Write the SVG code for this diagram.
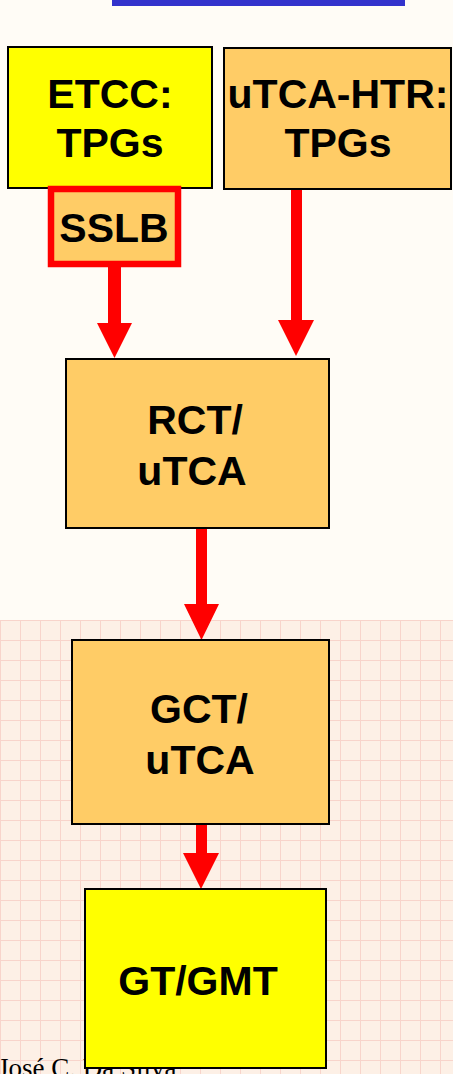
<svg xmlns="http://www.w3.org/2000/svg" width="453" height="1074" viewBox="0 0 453 1074">
  <defs>
    <style>
      .box { stroke: #000; stroke-width: 2; }
      .yel { fill: #ffff00; }
      .org { fill: #ffcc66; }
      .lbl { font-family: "Liberation Sans", Arial, sans-serif; font-weight: bold; font-size: 41px; fill: #000; text-anchor: middle; }
      .conn { fill: #ff0000; }
    </style>
    <pattern id="grid" width="20" height="20" patternUnits="userSpaceOnUse">
      <path d="M0 0H20M0 0V20" stroke="#f2b8b0" stroke-width="2" fill="none"/>
    </pattern>
  </defs>

  <!-- background -->
  <rect x="0" y="0" width="453" height="1074" fill="#fffcf6"/>
  <rect x="0" y="620" width="453" height="454" fill="#fdf0e6"/>
  <rect x="0" y="620" width="453" height="454" fill="url(#grid)" opacity="0.5"/>

  <!-- title bar remnant -->
  <rect x="112" y="0" width="293" height="6" fill="#3333cc"/>

  <!-- footer text (under boxes) -->
  <text x="-2" y="1077" font-family="Liberation Serif, 'Times New Roman', serif" font-size="27" fill="#000">José C. Da Silva</text>

  <g id="connectors">
    <path class="conn" d="M108 266H121V323H132L114.5 358L97 323H108Z"/>
    <path class="conn" d="M291 189H302V320H314L296 356L278 320H291Z"/>
    <path class="conn" d="M196 528H207V604H219L201.5 640L184 604H196Z"/>
    <path class="conn" d="M196 824H207V853H219L201 889L183 853H196Z"/>
  </g>

  <g id="etcc">
    <rect class="box yel" x="8" y="47" width="204" height="141"/>
    <text class="lbl" x="110" y="108">ETCC:</text>
    <text class="lbl" x="110" y="157">TPGs</text>
  </g>

  <g id="utca-htr">
    <rect class="box org" x="224" y="48" width="227" height="141"/>
    <text class="lbl" x="338" y="108">uTCA-HTR:</text>
    <text class="lbl" x="338" y="157">TPGs</text>
  </g>

  <g id="sslb">
    <rect x="51" y="189" width="127" height="75" fill="#ffcc66" stroke="#ff0000" stroke-width="6.5"/>
    <text class="lbl" x="114" y="242">SSLB</text>
  </g>

  <g id="rct">
    <rect class="box org" x="66" y="359" width="263" height="169"/>
    <text class="lbl" x="195" y="434">RCT/</text>
    <text class="lbl" x="192" y="485">uTCA</text>
  </g>

  <g id="gct">
    <rect class="box org" x="72" y="640" width="257" height="184"/>
    <text class="lbl" x="199" y="723">GCT/</text>
    <text class="lbl" x="200" y="774">uTCA</text>
  </g>

  <g id="gt-gmt">
    <rect class="box yel" x="85" y="889" width="241" height="179"/>
    <text class="lbl" x="198" y="995">GT/GMT</text>
  </g>
</svg>
